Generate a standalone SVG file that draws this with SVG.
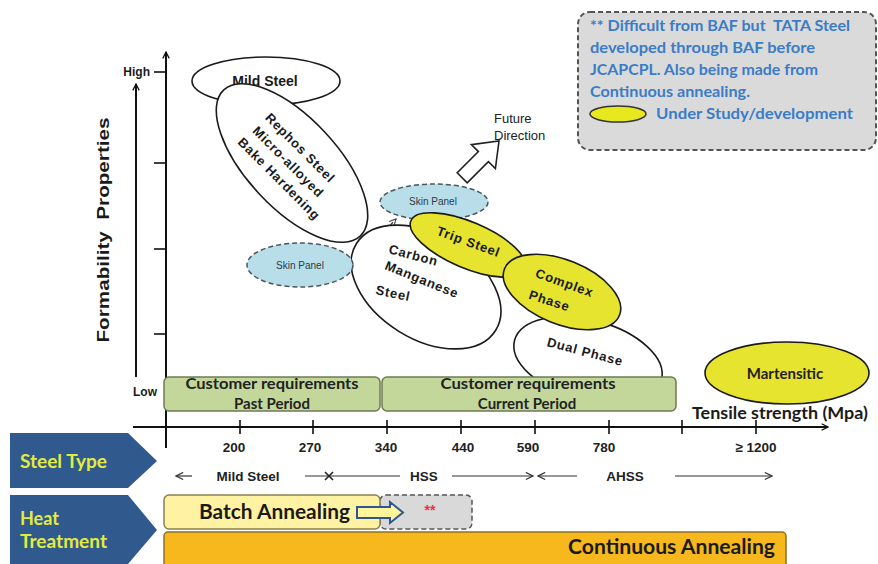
<svg xmlns="http://www.w3.org/2000/svg" width="878" height="564" viewBox="0 0 878 564">
  <defs>
    <style>
      .ar { font-family: "Liberation Sans", Arial, sans-serif; font-weight: bold; fill: #1a1a1a; }
      .cb { font-family: Lato, "Liberation Sans", Arial, sans-serif; font-weight: bold; }
      .ell { fill: #ffffff; stroke: #1a1a1a; stroke-width: 1.6; }
      .yel { fill: #E6E42F; stroke: #1a1a1a; stroke-width: 1.6; }
      .skin { fill: #B8DEE9; stroke: #4a5560; stroke-width: 1.5; stroke-dasharray: 5 3; }
      .skinT { font-family: "Liberation Sans", Arial, sans-serif; font-size: 10px; fill: #2b3a48; text-anchor: middle; }
      .axis { stroke: #111; stroke-width: 2; fill: none; }
      .tick { stroke: #111; stroke-width: 1.6; }
      .thin { stroke: #333; stroke-width: 1.2; fill: none; }
      .green { fill: #C4D79B; stroke: #6D7B53; stroke-width: 1.5; }
      .greenT { font-size: 15px; fill: #222; text-anchor: middle; }
      .num { font-size: 13.5px; text-anchor: middle; fill: #222; }
      .pent { fill: #30598E; }
      .pentT { font-size: 18px; fill: #E3EC3E; }
      .leg { font-size: 15px; fill: #3A7CC6; }
      .stars { font-family: "Liberation Sans", Arial, sans-serif; font-weight: bold; font-size: 14px; fill: #F0303A; text-anchor: middle; }
    </style>
    <marker id="tipOpen" viewBox="0 0 10 10" refX="9" refY="5" markerWidth="8" markerHeight="8" orient="auto-start-reverse" markerUnits="userSpaceOnUse">
      <path d="M1 1 L9 5 L1 9" fill="none" stroke="#111" stroke-width="1.6"/>
    </marker>
    <marker id="tipThin" viewBox="0 0 10 10" refX="9" refY="5" markerWidth="9" markerHeight="9" orient="auto-start-reverse" markerUnits="userSpaceOnUse">
      <path d="M1 1 L9 5 L1 9" fill="none" stroke="#333" stroke-width="1.3"/>
    </marker>
    <marker id="tipDash" viewBox="0 0 10 10" refX="9" refY="5" markerWidth="8" markerHeight="8" orient="auto" markerUnits="userSpaceOnUse">
      <path d="M1 1 L9 5 L1 9" fill="none" stroke="#444" stroke-width="1.4"/>
    </marker>
  </defs>

  <rect width="878" height="564" fill="#ffffff"/>

  <!-- legend box -->
  <g id="legend">
    <rect x="578" y="12" width="298" height="138" rx="12" fill="#DADADA" stroke="#555" stroke-width="2" stroke-dasharray="5 3"/>
    <text class="cb leg" x="590" y="31" textLength="260" lengthAdjust="spacingAndGlyphs" xml:space="preserve">** Difficult from BAF but  TATA Steel</text>
    <text class="cb leg" x="590" y="53" textLength="225" lengthAdjust="spacingAndGlyphs">developed through BAF before</text>
    <text class="cb leg" x="590" y="75" textLength="228" lengthAdjust="spacingAndGlyphs">JCAPCPL. Also being made from</text>
    <text class="cb leg" x="590" y="97" textLength="160" lengthAdjust="spacingAndGlyphs">Continuous annealing.</text>
    <ellipse cx="618" cy="114" rx="28" ry="8" fill="#E8E81F" stroke="#333" stroke-width="1.5"/>
    <text class="cb leg" x="656" y="119" textLength="197" lengthAdjust="spacingAndGlyphs">Under Study/development</text>
  </g>

  <!-- axes, ticks and arrows -->
  <g id="connectors">
    <line class="axis" x1="166" y1="448" x2="166" y2="52" marker-end="url(#tipOpen)"/>
    <line class="axis" x1="133" y1="427" x2="828" y2="427" marker-end="url(#tipOpen)"/>
    <!-- y ticks -->
    <line class="tick" x1="154" y1="72" x2="166" y2="72"/>
    <line class="tick" x1="154" y1="163" x2="166" y2="163"/>
    <line class="tick" x1="154" y1="249" x2="166" y2="249"/>
    <line class="tick" x1="154" y1="334" x2="166" y2="334"/>
    <!-- x ticks -->
    <g class="tick">
      <line x1="240" y1="420" x2="240" y2="434"/>
      <line x1="313" y1="420" x2="313" y2="434"/>
      <line x1="387" y1="420" x2="387" y2="434"/>
      <line x1="461" y1="420" x2="461" y2="434"/>
      <line x1="535" y1="420" x2="535" y2="434"/>
      <line x1="609" y1="420" x2="609" y2="434"/>
      <line x1="682" y1="420" x2="682" y2="434"/>
      <line x1="756" y1="420" x2="756" y2="434"/>
    </g>
    <!-- formability arrow -->
    <line class="axis" x1="136" y1="377" x2="136" y2="84" marker-end="url(#tipOpen)"/>
    <!-- steel class ranges -->
    <line class="thin" x1="192" y1="476" x2="176" y2="476" marker-end="url(#tipThin)"/>
    <line class="thin" x1="305" y1="476" x2="400" y2="476"/>
    <path d="M325 472 L333 480 M333 472 L325 480" stroke="#222" stroke-width="1.6"/>
    <line class="thin" x1="452" y1="476" x2="533" y2="476" marker-end="url(#tipThin)"/>
    <line class="thin" x1="577" y1="476" x2="538" y2="476" marker-end="url(#tipThin)"/>
    <line class="thin" x1="675" y1="476" x2="772" y2="476" marker-end="url(#tipThin)"/>
    <!-- skin panel link -->
    <line x1="352" y1="266" x2="396" y2="219" stroke="#444" stroke-width="1.4" stroke-dasharray="4 3" marker-end="url(#tipDash)"/>
    <!-- future direction arrow -->
    <polygon points="499,141 495.4,168.6 488.4,161.6 467.2,182.8 457.2,172.8 478.4,151.6 471.4,144.6" fill="#ffffff" stroke="#222" stroke-width="1.6"/>
  </g>

  <!-- axis labels -->
  <g id="axis-labels">
    <text class="ar" x="150" y="76" font-size="12" text-anchor="end">High</text>
    <text class="ar" x="157" y="396" font-size="12" text-anchor="end">Low</text>
    <text class="ar" transform="translate(109 230) rotate(-90)" font-size="17" text-anchor="middle" textLength="225" lengthAdjust="spacingAndGlyphs" xml:space="preserve">Formability  Properties</text>
    <text class="cb" x="692" y="419" font-size="17" fill="#1a1a1a" textLength="176" lengthAdjust="spacingAndGlyphs">Tensile strength (Mpa)</text>
    <g class="ar num">
      <text x="234" y="452">200</text>
      <text x="310" y="452">270</text>
      <text x="386" y="452">340</text>
      <text x="463" y="452">440</text>
      <text x="528" y="452">590</text>
      <text x="604" y="452">780</text>
      <text x="756" y="452">≥ 1200</text>
      <text x="248" y="481">Mild Steel</text>
      <text x="424" y="481">HSS</text>
      <text x="625" y="481">AHSS</text>
    </g>
  </g>

  <!-- Mild Steel -->
  <g id="mild-steel">
    <ellipse class="ell" cx="266" cy="81" rx="74" ry="24"/>
    <text class="ar" x="265" y="86" font-size="14" text-anchor="middle">Mild Steel</text>
  </g>

  <!-- Rephos / micro-alloyed / bake hardening -->
  <g id="rephos">
    <ellipse class="ell" cx="292" cy="163" rx="100" ry="45" transform="rotate(47 292 163)"/>
    <g class="ar" font-size="13" text-anchor="middle" letter-spacing="0.8">
      <text transform="translate(297 151) rotate(45)">Rephos Steel</text>
      <text transform="translate(285 165) rotate(45)">Micro-alloyed</text>
      <text transform="translate(276 182) rotate(45)">Bake Hardening</text>
    </g>
  </g>

  <!-- Carbon Manganese Steel -->
  <g id="carbon-manganese">
    <ellipse class="ell" cx="426" cy="287" rx="82" ry="52" transform="rotate(32 426 287)"/>
    <g class="ar" font-size="13" letter-spacing="0.8">
      <text transform="translate(388 253) rotate(15)">Carbon</text>
      <text transform="translate(384 269) rotate(22)">Manganese</text>
      <text transform="translate(375 294) rotate(12)">Steel</text>
    </g>
  </g>

  <!-- Skin Panel (left) -->
  <g id="skin-panel-left">
    <ellipse class="skin" cx="300" cy="265" rx="53" ry="22"/>
    <text class="skinT" x="300" y="269">Skin Panel</text>
  </g>

  <!-- Skin Panel (top) -->
  <g id="skin-panel-top">
    <ellipse class="skin" cx="434" cy="202" rx="54" ry="18"/>
    <text class="skinT" x="433" y="205">Skin Panel</text>
  </g>

  <!-- Dual Phase -->
  <g id="dual-phase">
    <ellipse class="ell" cx="588" cy="360" rx="76" ry="40" transform="rotate(15 588 360)"/>
    <text class="ar" transform="translate(584 356) rotate(15)" font-size="13" text-anchor="middle" letter-spacing="0.8">Dual Phase</text>
  </g>

  <!-- Trip Steel -->
  <g id="trip-steel">
    <ellipse class="yel" cx="468" cy="245" rx="62" ry="23" transform="rotate(23 468 245)"/>
    <text class="ar" transform="translate(467 246) rotate(20)" font-size="13" text-anchor="middle" letter-spacing="0.8">Trip Steel</text>
  </g>

  <!-- Complex Phase -->
  <g id="complex-phase">
    <ellipse class="yel" cx="562" cy="292" rx="62" ry="32" transform="rotate(22 562 292)"/>
    <g class="ar" font-size="13" text-anchor="middle" letter-spacing="0.8">
      <text transform="translate(563 287) rotate(20)">Complex</text>
      <text transform="translate(548 305) rotate(18)">Phase</text>
    </g>
  </g>

  <!-- Martensitic -->
  <g id="martensitic">
    <ellipse class="yel" cx="787" cy="373" rx="82" ry="31"/>
    <text class="cb" x="785" y="379" font-size="15" text-anchor="middle" fill="#222">Martensitic</text>
  </g>

  <!-- customer requirements bands -->
  <g id="past-period">
    <rect class="green" x="164" y="377" width="216" height="34" rx="5"/>
    <text class="cb greenT" x="272" y="389" textLength="173" lengthAdjust="spacingAndGlyphs">Customer requirements</text>
    <text class="cb greenT" x="272" y="409">Past Period</text>
  </g>
  <g id="current-period">
    <rect class="green" x="382" y="377" width="294" height="34" rx="5"/>
    <text class="cb greenT" x="528" y="389" textLength="175" lengthAdjust="spacingAndGlyphs">Customer requirements</text>
    <text class="cb greenT" x="527" y="409">Current Period</text>
  </g>

  <!-- row headers -->
  <g id="steel-type">
    <polygon class="pent" points="10,433 128,433 157,461 128,488 10,488"/>
    <text class="cb pentT" x="20" y="468" textLength="87" lengthAdjust="spacingAndGlyphs">Steel Type</text>
  </g>
  <g id="heat-treatment">
    <polygon class="pent" points="10,495 128,495 157,530 128,564 10,564"/>
    <text class="cb pentT" x="20" y="525">Heat</text>
    <text class="cb pentT" x="20" y="548" textLength="87" lengthAdjust="spacingAndGlyphs">Treatment</text>
  </g>

  <!-- heat treatment bars -->
  <g id="continuous-annealing">
    <rect x="164" y="532" width="622" height="36" rx="4" fill="#F6B81C" stroke="#8E7020" stroke-width="1.5"/>
    <text class="cb" x="568" y="554" font-size="20" fill="#1a1a1a" textLength="207" lengthAdjust="spacingAndGlyphs">Continuous Annealing</text>
  </g>
  <g id="baf-pending">
    <rect x="380" y="495" width="92" height="34" rx="6" fill="#D9D9D9" stroke="#555" stroke-width="1.5" stroke-dasharray="5 3"/>
    <text class="stars" x="430" y="515">**</text>
  </g>
  <g id="batch-annealing">
    <rect x="164" y="495" width="216" height="34" rx="5" fill="#FFF3A3" stroke="#8A8050" stroke-width="1.5"/>
    <text class="cb" x="199" y="519" font-size="20" fill="#1a1a1a" textLength="151" lengthAdjust="spacingAndGlyphs">Batch Annealing</text>
    <polygon points="357,507 390,507 390,502 403,512.5 390,523 390,518 357,518" fill="#FFF59A" stroke="#2F5597" stroke-width="2"/>
  </g>

  <!-- future direction label -->
  <g id="future-direction">
    <text font-family="Liberation Sans, Arial, sans-serif" font-size="13" fill="#222" x="494" y="123">Future</text>
    <text font-family="Liberation Sans, Arial, sans-serif" font-size="13" fill="#222" x="494" y="140">Direction</text>
  </g>
</svg>
